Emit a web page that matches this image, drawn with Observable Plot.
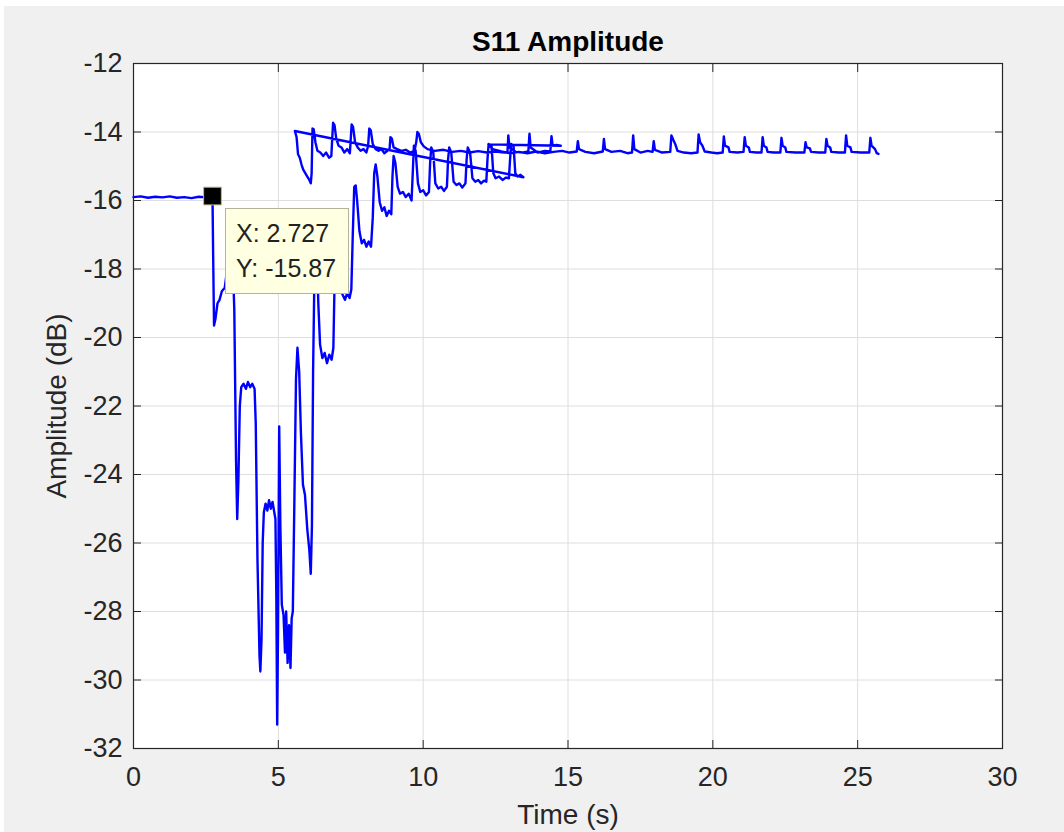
<!DOCTYPE html>
<html>
<head>
<meta charset="utf-8">
<script src="https://cdn.jsdelivr.net/npm/d3@7"></script>
<script src="https://cdn.jsdelivr.net/npm/@observablehq/plot@0.6"></script>
<style>
  html, body { margin: 0; padding: 0; background: #ffffff; }
  #fig { position: absolute; left: 4px; top: 6px; width: 1060px; height: 826px; background: #f0f0f0; overflow: hidden; }
  #fig svg { position: absolute; left: 0; top: 0; }
  #tip { position: absolute; background: #ffffe1; border: 1px solid #b4b29a;
         font: 25px "Liberation Sans", Arial, sans-serif; line-height: 35px; color: #222;
         padding: 7px 12px 7px 10px; white-space: pre; }
</style>
</head>
<body>
<div id="fig"></div>
<script>
// ---- data ----
const xTicks = [0, 5, 10, 15, 20, 25, 30];
const yTicks = [-32, -30, -28, -26, -24, -22, -20, -18, -16, -14, -12];

const titleText = "S11 Amplitude";
const xLabel = "Time (s)";
const yLabel = "Amplitude (dB)";

const tipX = 2.727;
const tipY = -15.87;

// sweep 1 (0 .. 13.46 s)
const timeA = [0,0.25,0.5,0.75,1.0,1.25,1.5,1.75,2.0,2.25,2.5,2.727,2.75,2.78,2.83,2.9,2.97,3.05,3.15,3.25,3.33,3.42,3.48,3.54,3.58,3.62,3.67,3.72,3.8,3.88,3.95,4.03,4.1,4.18,4.22,4.28,4.35,4.38,4.42,4.46,4.5,4.56,4.62,4.68,4.74,4.8,4.86,4.9,4.93,4.96,4.99,5.03,5.07,5.12,5.18,5.23,5.27,5.32,5.37,5.42,5.46,5.5,5.55,5.61,5.66,5.72,5.78,5.85,5.92,6.0,6.07,6.12,6.16,6.2,6.26,6.33,6.38,6.44,6.52,6.6,6.68,6.76,6.84,6.9,6.95,7.02,7.08,7.15,7.22,7.3,7.38,7.46,7.52,7.57,7.62,7.67,7.72,7.8,7.88,7.96,8.04,8.12,8.2,8.26,8.31,8.36,8.42,8.5,8.58,8.66,8.74,8.82,8.9,8.94,8.98,9.04,9.12,9.2,9.3,9.4,9.5,9.6,9.64,9.68,9.74,9.82,9.9,10.0,10.1,10.2,10.24,10.28,10.35,10.42,10.52,10.62,10.72,10.82,10.86,10.9,10.97,11.05,11.15,11.25,11.35,11.46,11.5,11.54,11.62,11.7,11.8,11.9,12.0,12.1,12.18,12.22,12.26,12.36,12.42,12.5,12.62,12.74,12.86,12.96,13.0,13.04,13.12,13.18,13.26,13.36,13.46];
const ampA = [-15.90,-15.88,-15.92,-15.89,-15.91,-15.88,-15.92,-15.90,-15.93,-15.89,-15.91,-15.87,-17.6,-19.65,-19.45,-19.0,-18.9,-18.65,-18.55,-17.9,-17.3,-17.6,-19.2,-23.6,-25.3,-24.2,-22.0,-21.45,-21.35,-21.5,-21.3,-21.45,-21.35,-21.5,-22.5,-26.5,-29.3,-29.75,-28.8,-26.0,-25.1,-24.85,-25.05,-24.75,-25.0,-24.8,-25.1,-25.3,-27.5,-31.3,-28.5,-22.6,-25.5,-27.8,-28.1,-29.2,-28.0,-29.5,-28.4,-29.65,-28.2,-28.0,-25.0,-21.2,-20.3,-21.0,-22.8,-24.3,-24.6,-25.6,-26.2,-26.9,-25.5,-21.0,-17.3,-17.4,-19.0,-20.2,-20.6,-20.45,-20.75,-20.5,-20.65,-20.3,-18.0,-17.2,-17.8,-18.6,-18.75,-18.9,-18.7,-18.85,-18.6,-17.0,-15.6,-15.56,-16.0,-16.9,-17.25,-17.15,-17.35,-17.2,-17.35,-16.5,-15.2,-14.95,-15.3,-16.05,-16.3,-16.2,-16.45,-16.3,-16.4,-15.3,-14.7,-14.9,-15.6,-15.8,-15.75,-15.9,-15.8,-16.0,-15.2,-14.4,-14.55,-15.5,-15.75,-15.7,-15.85,-15.75,-14.9,-14.45,-14.6,-15.5,-15.65,-15.6,-15.72,-15.6,-14.8,-14.45,-14.6,-15.45,-15.55,-15.5,-15.62,-15.5,-14.8,-14.45,-14.6,-15.35,-15.45,-15.4,-15.5,-15.42,-15.45,-14.8,-14.35,-14.4,-15.2,-15.35,-15.3,-15.4,-15.33,-15.35,-14.8,-14.35,-14.4,-15.2,-15.3,-15.25,-15.32];

// sweep 2 (5.57 .. 14.75 s)
const timeB = [5.57,5.63,5.68,5.74,5.8,5.86,5.93,6.0,6.07,6.12,6.15,6.18,6.22,6.28,6.35,6.45,6.55,6.65,6.75,6.83,6.86,6.89,6.94,7.0,7.08,7.18,7.28,7.38,7.47,7.5,7.53,7.58,7.65,7.74,7.84,7.94,8.04,8.1,8.14,8.19,8.26,8.36,8.46,8.56,8.66,8.76,8.84,8.87,8.92,8.98,9.1,9.25,9.4,9.55,9.7,9.76,9.8,9.85,9.92,10.02,10.15,10.4,10.7,11.0,11.3,11.6,11.9,12.2,12.5,12.8,12.91,12.94,12.98,13.2,13.45,13.63,13.67,13.71,13.95,14.2,14.39,14.43,14.47,14.6,14.75];
const ampB = [-13.97,-14.15,-14.65,-14.75,-14.95,-15.1,-15.2,-15.3,-15.4,-15.5,-15.2,-13.9,-13.92,-14.3,-14.55,-14.6,-14.7,-14.6,-14.75,-14.7,-14.2,-13.73,-13.8,-14.2,-14.4,-14.45,-14.6,-14.5,-14.62,-14.2,-13.78,-13.85,-14.3,-14.45,-14.55,-14.5,-14.6,-14.4,-13.9,-13.95,-14.35,-14.5,-14.55,-14.5,-14.62,-14.55,-14.5,-14.15,-14.2,-14.45,-14.5,-14.55,-14.52,-14.6,-14.55,-14.3,-14.0,-14.05,-14.3,-14.42,-14.5,-14.55,-14.52,-14.58,-14.55,-14.6,-14.56,-14.6,-14.57,-14.6,-14.58,-14.1,-14.45,-14.58,-14.6,-14.57,-14.05,-14.45,-14.6,-14.55,-14.57,-14.12,-14.4,-14.38,-14.4];

// sweep 3 (12.25 .. 25.72 s)
const timeC = [12.25,12.4,12.7,13.0,13.3,13.6,13.9,14.2,14.5,14.8,15.05,15.3,15.34,15.38,15.6,15.9,16.2,16.24,16.28,16.5,16.8,17.05,17.21,17.25,17.29,17.5,17.75,17.92,17.96,18.0,18.25,18.53,18.57,18.63,18.7,18.78,19.0,19.25,19.47,19.51,19.56,19.64,19.72,19.95,20.15,20.34,20.38,20.42,20.54,20.58,20.85,21.06,21.1,21.14,21.24,21.28,21.5,21.68,21.72,21.76,21.85,21.89,22.1,22.33,22.37,22.41,22.5,22.54,22.85,23.16,23.2,23.24,23.35,23.39,23.65,23.88,23.92,23.96,24.05,24.09,24.35,24.56,24.6,24.64,24.75,24.79,25.1,25.4,25.44,25.48,25.6,25.66,25.72];
const ampC = [-14.36,-14.5,-14.57,-14.62,-14.58,-14.62,-14.57,-14.62,-14.58,-14.55,-14.6,-14.57,-14.27,-14.5,-14.58,-14.62,-14.57,-14.2,-14.5,-14.58,-14.55,-14.62,-14.6,-14.1,-14.5,-14.6,-14.55,-14.58,-14.27,-14.52,-14.6,-14.58,-14.1,-14.22,-14.35,-14.55,-14.6,-14.62,-14.6,-14.07,-14.3,-14.4,-14.57,-14.6,-14.62,-14.6,-14.13,-14.4,-14.45,-14.58,-14.6,-14.58,-14.15,-14.4,-14.45,-14.58,-14.6,-14.6,-14.15,-14.4,-14.45,-14.58,-14.6,-14.6,-14.17,-14.4,-14.45,-14.58,-14.6,-14.6,-14.3,-14.45,-14.48,-14.58,-14.6,-14.6,-14.2,-14.4,-14.45,-14.58,-14.6,-14.6,-14.1,-14.4,-14.45,-14.58,-14.6,-14.6,-14.17,-14.4,-14.5,-14.62,-14.64];

// ---- build the one continuous trace (data order, as recorded) ----
const rows = [];
[[timeA, ampA], [timeB, ampB], [timeC, ampC]].forEach(([ts, as]) => {
  ts.forEach((t, i) => rows.push({t, a: as[i]}));
});
const tipData = [{t: tipX, a: tipY}];

const W = 1060, H = 826;
const fmt = d => String(d);
const axisColor = "#262626";

const chart = Plot.plot({
  width: W,
  height: H,
  marginLeft: 129,
  marginRight: 62,
  marginTop: 57,
  marginBottom: 84,
  style: {
    background: "transparent",
    fontFamily: "'Liberation Sans', Arial, Helvetica, sans-serif",
    fontSize: "27px",
    color: axisColor,
    overflow: "visible"
  },
  x: {domain: [0, 30]},
  y: {domain: [-32, -12]},
  marks: [
    Plot.frame({fill: "white", stroke: null}),
    Plot.gridX(xTicks, {stroke: "#dedede", strokeOpacity: 1, strokeWidth: 1}),
    Plot.gridY(yTicks, {stroke: "#dedede", strokeOpacity: 1, strokeWidth: 1}),
    Plot.line(rows, {x: "t", y: "a", stroke: "#0000ff", strokeWidth: 2.4, curve: "linear"}),
    Plot.axisX(xTicks, {anchor: "bottom", tickSize: -8, tickPadding: 26, tickFormat: fmt, label: null, stroke: axisColor, fill: axisColor}),
    Plot.axisX(xTicks, {anchor: "top", tickSize: -8, tickFormat: () => "", label: null, stroke: axisColor}),
    Plot.axisY(yTicks, {anchor: "left", tickSize: -8, tickPadding: 19, tickFormat: fmt, label: null, stroke: axisColor, fill: axisColor}),
    Plot.axisY(yTicks, {anchor: "right", tickSize: -8, tickFormat: () => "", label: null, stroke: axisColor}),
    Plot.frame({stroke: axisColor, strokeWidth: 1.2}),
    Plot.text([titleText], {frameAnchor: "top", lineAnchor: "middle", textAnchor: "middle", dy: -21, fontWeight: "bold", fontSize: 28, fill: "#000"}),
    Plot.text([xLabel], {frameAnchor: "bottom", lineAnchor: "middle", textAnchor: "middle", dy: 67, fontSize: 28, fill: axisColor}),
    Plot.text([yLabel], {frameAnchor: "left", lineAnchor: "middle", textAnchor: "middle", dx: -76, rotate: -90, fontSize: 28, fill: axisColor}),
    Plot.dot(tipData, {x: "t", y: "a", symbol: "square", r: 10, fill: "#000", stroke: "#bdb98f", strokeWidth: 1})
  ]
});

const fig = document.getElementById("fig");
fig.appendChild(chart);

// data tip box anchored to the marked point through the chart's scales
const px = chart.scale("x").apply(tipX);
const py = chart.scale("y").apply(tipY);
const tip = document.createElement("div");
tip.id = "tip";
tip.textContent = `X: ${tipX}\nY: ${tipY}`;
tip.style.left = (px + 13) + "px";
tip.style.top = (py + 12) + "px";
fig.appendChild(tip);
</script>
</body>
</html>
